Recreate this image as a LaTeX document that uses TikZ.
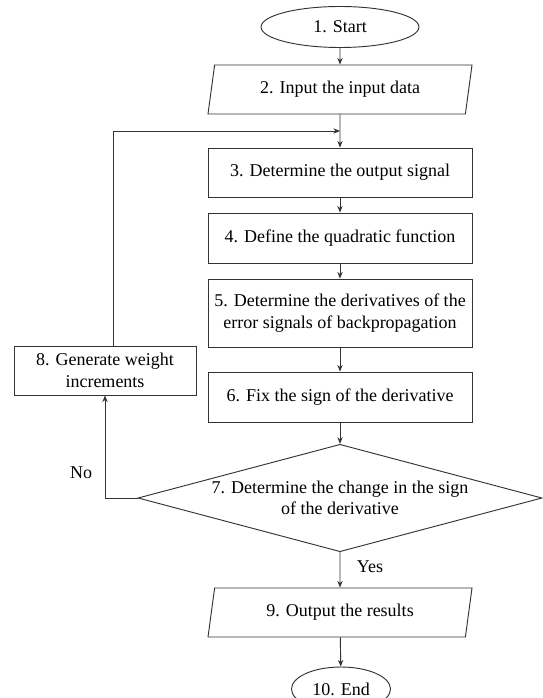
\documentclass[tikz,border=0pt]{standalone}
\usepackage{fontspec}
\setmainfont{Liberation Serif}
\usetikzlibrary{shapes.geometric,arrows.meta}
\begin{document}
\begin{tikzpicture}[x=0.75pt,y=-0.75pt,
  every node/.style={font=\fontsize{13.5}{16}\selectfont},
  >={Stealth[length=5pt,width=4pt]},
  line/.style={draw=black!80,line width=0.7pt},
  box/.style={line,rectangle,minimum width=198pt,minimum height=36.75pt,align=center,inner sep=2pt},
  io/.style={line,trapezium,trapezium left angle=73,trapezium right angle=107,trapezium stretches body,minimum width=198pt,minimum height=36.75pt,inner sep=2pt},
  term/.style={line,ellipse,inner sep=0pt}]
  \useasboundingbox (0,0) rectangle (542,698);
  \node[term,minimum width=118.5pt,minimum height=30.75pt] (start) at (340,27) {1. Start};
  \node[io] (input) at (340,89.5) {2. Input the input data};
  \node[box] (output) at (340,172.5) {3. Determine the output signal};
  \node[box,minimum height=37.5pt] (quad) at (340,238) {4. Define the quadratic function};
  \node[box,minimum height=51pt] (deriv) at (340,313) {5. Determine the derivatives of the\\error signals of backpropagation};
  \node[box,minimum height=37.5pt] (sign) at (340,397) {6. Fix the sign of the derivative};
  \node[line,diamond,aspect=3.5,inner sep=0pt,minimum width=303pt,minimum height=80.25pt,align=center] (change) at (340,498) {7. Determine the change in the sign\\of the derivative};
  \node[box,minimum width=136.5pt] (weight) at (105,370.5) {8. Generate weight\\increments};
  \node[io] (result) at (340,612.5) {9. Output the results};
  \node[term,minimum width=74.25pt,minimum height=33pt] (end) at (341,689) {10. End};
  \coordinate (join) at (340,131);
  % main flow
  \draw[line,->] (start) -- (input);
  \draw[line,->] (input) -- (output);
  \draw[line,->] (output) -- (quad);
  \draw[line,->] (quad) -- (deriv);
  \draw[line,->] (deriv) -- (sign);
  \draw[line,->] (sign) -- (change);
  \draw[line,->] (change) -- node[pos=0.4,right,xshift=9pt] {Yes} (result);
  \draw[line,->] (result) -- (end);
  % loop back
  \draw[line,->] (change.west) -| node[pos=0.625,left,xshift=-6pt] {No} (weight.south);
  \draw[line,->] ([xshift=6pt]weight.north) |- (join);
\end{tikzpicture}
\end{document}
